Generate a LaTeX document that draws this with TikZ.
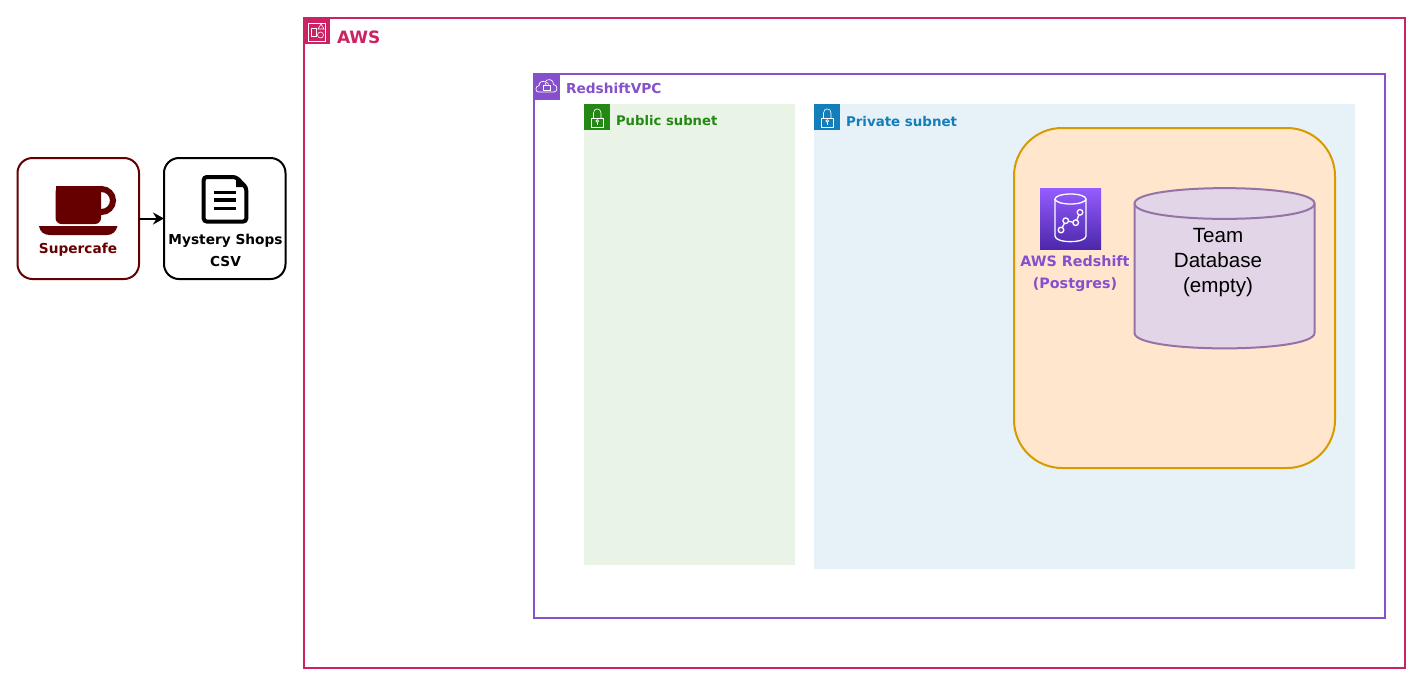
\documentclass[tikz,border=0pt]{standalone}
\usepackage{fontspec}
\setmainfont{Liberation Sans}
\newfontfamily\handfont{DejaVu Sans}
\usetikzlibrary{positioning,arrows.meta}
\definecolor{awspink}{HTML}{CC2264}
\definecolor{vpcpurple}{HTML}{8650CC}
\definecolor{pubgreen}{HTML}{248814}
\definecolor{privblue}{HTML}{147EBA}
\definecolor{pubfill}{HTML}{E9F3E6}
\definecolor{privfill}{HTML}{E6F2F8}
\definecolor{cupred}{HTML}{660000}
\definecolor{dbstroke}{HTML}{D79B00}
\definecolor{dbfill}{HTML}{FFE6CC}
\definecolor{cylstroke}{HTML}{9673A6}
\definecolor{cylfill}{HTML}{E1D5E7}
\definecolor{shifttop}{HTML}{945DFF}
\definecolor{shiftbot}{HTML}{4D27AA}
\definecolor{shiftmid}{HTML}{6E41D2}

\begin{document}
\begin{tikzpicture}[
    x=1pt, y=-1pt,
    every node/.style={outer sep=0pt},
    hand/.style={font=\handfont\bfseries\fontsize{#1}{22}\selectfont, align=center, inner sep=0pt},
    hand/.default=13.7,
    group/.style={rectangle, draw=#1, line width=2pt, fill=white, anchor=north west},
    subnet/.style={rectangle, fill=#1, anchor=north west},
    tile/.style={rectangle, fill=#1, minimum width=26pt, minimum height=26pt, inner sep=0pt, anchor=north west},
    card/.style={rectangle, draw=#1, line width=2pt, fill=white, rounded corners=15pt, minimum width=121.5pt, minimum height=121pt, anchor=north west},
    arrow/.style={-{Stealth[length=11pt,width=12pt]}, line width=2pt},
    lockicon/.pic={
        \draw[white, line width=0.6pt] (-5.5,1) rectangle (6,10);
        \draw[white, line width=0.6pt] (-3.5,1) -- (-3.5,-4) .. controls (-3.5,-9.5) and (4,-9.5) .. (4,-4) -- (4,1);
        \draw[white, line width=0.6pt] (0.25,4) circle (1.4pt);
        \draw[white, line width=0.6pt] (0.25,5.4) -- (0.25,7.5);
    }
]
\useasboundingbox (0,0) rectangle (1419,681);

% --- Sources ---
\node[card=cupred] (supercafe) at (17.5,158) {};
\node[card=black, right=25pt of supercafe.north east, anchor=north west] (csv) {};
\draw[arrow] (supercafe) -- (csv);

% Cup
\fill[cupred] (39,226) -- (117.5,226) .. controls (116,232) and (112,235) .. (107,235) -- (50,235) .. controls (44,235) and (40,232) .. (39,226) -- cycle;
\draw[cupred, line width=6pt] (101.5,200.5) circle (11.5pt);
\fill[cupred, rounded corners=6pt] (55.5,186) -- (101,186) -- (101,224) -- (55.5,224) -- cycle;
\fill[cupred] (55.5,186) rectangle (101,200);
\node[hand, text=cupred] (supercafelabel) at (78,250) {Supercafe};

% Document
\draw[black, line width=4pt, rounded corners=3pt] (203.7,177) -- (236,177) -- (246.3,187.5) -- (246.3,221.5) -- (203.7,221.5) -- cycle;
\fill[black] (236,176) -- (247,187) -- (236,187) -- cycle;
\foreach \y in {192.3,200,208.3}
    \draw[black, line width=3.4pt] (213.5,\y) -- (236,\y);
\node[hand, text=black] (csvlabel) at (225.5,250) {Mystery Shops\\CSV};

% --- AWS ---
\node[group=awspink, minimum width=1101pt, minimum height=650pt] (aws) at (304,18) {};
\node[tile=awspink] (awstile) at (304,18) {};
\draw[white, line width=0.6pt] (308.5,23) rectangle (325.5,41.5);
\draw[white, line width=0.6pt] (311,28.5) rectangle (316.5,36.5);
\draw[white, line width=0.6pt] (318,29) -- (321,24) -- (324,29) -- cycle;
\draw[white, line width=0.6pt] (320.5,35) circle (3pt);
\node[hand=17, text=awspink, right=7pt of awstile, yshift=-6pt] (awslabel) {AWS};

% --- VPC ---
\node[group=vpcpurple, minimum width=851pt, minimum height=544pt] (vpc) at (534,74) {};
\node[tile=vpcpurple] (vpctile) at (534,74) {};
\draw[white, line width=0.7pt] (538.5,92) .. controls (535,92) and (535,86) .. (539,85.5) .. controls (539,81.5) and (543,80.5) .. (545,82) .. controls (547,78) and (554,79) .. (553.5,84.5) .. controls (558,84.5) and (558,92) .. (554,92) -- cycle;
\draw[white, line width=0.6pt] (543.5,85.5) rectangle (550,90);
\draw[white, line width=0.6pt] (545,85.5) .. controls (545,81.5) and (548.5,81.5) .. (548.5,85.5);
\node[hand, text=vpcpurple, right=6pt of vpctile, yshift=-1pt] (vpclabel) {RedshiftVPC};

% --- Public subnet ---
\node[subnet=pubfill, minimum width=211pt, minimum height=461pt] (public) at (584,104) {};
\node[tile=pubgreen] (publictile) at (584,104) {};
\pic at (publictile.center) {lockicon};
\node[hand=13.2, text=pubgreen, right=6pt of publictile, yshift=-4pt] (publiclabel) {Public subnet};

% --- Private subnet ---
\node[subnet=privfill, minimum width=541pt, minimum height=465pt] (private) at (814,104) {};
\node[tile=privblue] (privatetile) at (814,104) {};
\pic at (privatetile.center) {lockicon};
\node[hand=13.4, text=privblue, right=6pt of privatetile, yshift=-4pt] (privatelabel) {Private subnet};

% --- Database group ---
\node[rectangle, draw=dbstroke, line width=2pt, fill=dbfill, rounded corners=48pt, minimum width=321pt, minimum height=340pt, anchor=north west] (dbgroup) at (1014,128) {};

% Redshift icon
\node[rectangle, top color=shifttop, bottom color=shiftbot, minimum width=61pt, minimum height=61pt, inner sep=0pt, anchor=north west] (redshifttile) at (1040,188) {};
\draw[white, line width=1.3pt] (1055,199) -- (1055,236) .. controls (1055,243.5) and (1086,243.5) .. (1086,236) -- (1086,199);
\draw[white, line width=1.3pt] (1070.5,199) ellipse (15.5pt and 5pt);
\draw[white, line width=1.3pt] (1061,230) -- (1065.7,220.7) -- (1075.7,222.7) -- (1080,212.3);
\foreach \p in {(1061,230),(1065.7,220.7),(1075.7,222.7),(1080,212.3)}
    \draw[white, fill=shiftmid, line width=1.3pt] \p circle (2.8pt);
\node[hand=14.3, text=vpcpurple, below=7pt of redshifttile, xshift=4.5pt] (redshiftlabel) {AWS Redshift\\(Postgres)};

% Database
\draw[cylstroke, fill=cylfill, line width=2pt] (1134.5,203.5) -- (1134.5,333) .. controls (1134.5,353.5) and (1314.5,353.5) .. (1314.5,333) -- (1314.5,203.5) .. controls (1314.5,183) and (1134.5,183) .. (1134.5,203.5) -- cycle;
\draw[cylstroke, line width=2pt] (1134.5,203.5) .. controls (1134.5,224) and (1314.5,224) .. (1314.5,203.5);
\node[align=center, inner sep=0pt, font=\fontsize{20.6}{25}\selectfont] (teamdblabel) at (1218,263) {Team\\Database\\(empty)};

\end{tikzpicture}
\end{document}
